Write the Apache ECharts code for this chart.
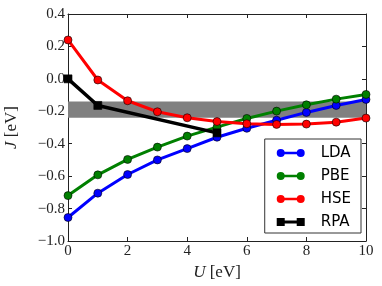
<!DOCTYPE html>
<html>
<head>
<meta charset="utf-8">
<script src="https://cdn.jsdelivr.net/npm/echarts@6/dist/echarts.min.js"></script>
<style>html,body{margin:0;padding:0;background:#fff}#c{width:382px;height:286px}</style>
</head>
<body>
<div id="c"></div>
<script>
const U = [0, 1, 2, 3, 4, 5, 6, 7, 8, 9, 10];
const LDA = [-0.855, -0.705, -0.59, -0.5, -0.43, -0.36, -0.305, -0.255, -0.207, -0.164, -0.127];
const PBE = [-0.72, -0.592, -0.497, -0.421, -0.353, -0.298, -0.244, -0.199, -0.16, -0.125, -0.096];
const HSE = [0.24, -0.007, -0.135, -0.203, -0.24, -0.263, -0.277, -0.281, -0.279, -0.267, -0.242];
const RPA_U = [0, 1, 5];
const RPA = [0.0, -0.164, -0.333];
const BAND = [-0.14, -0.24];
const X_TICKS = [0, 10, 2];
const Y_TICKS = [-1.0, 0.4, 0.2];

const pair = (xs, ys) => xs.map((x, i) => [x, ys[i]]);
const serif = 'Liberation Serif';
const fmtY = v => (v < 0 ? '\u2212' : '') + Math.abs(v).toFixed(1);
const circIcon = 'path://M0,4 A4,4 0 1,1 8,4 A4,4 0 1,1 0,4 Z M6,2.7 L22,2.7 L22,5.3 L6,5.3 Z M20,4 A4,4 0 1,1 28,4 A4,4 0 1,1 20,4 Z';
const sqIcon = 'path://M0,0 L8,0 L8,8 L0,8 Z M6,2.5 L22,2.5 L22,5.5 L6,5.5 Z M20,0 L28,0 L28,8 L20,8 Z';

const chart = echarts.init(document.getElementById('c'), null, {renderer: 'canvas'});
const axCommon = {
  type: 'value', splitLine: {show: false},
  axisLine: {show: true, onZero: false, lineStyle: {color: '#222', width: 1}},
  axisTick: {show: true, inside: true, length: 4, lineStyle: {color: '#222'}}
};
function lineSeries(name, data, color, symbol, size, width) {
  return {
    name, type: 'line', data, z: 3,
    symbol, symbolSize: size, showSymbol: true,
    lineStyle: {color, width},
    itemStyle: {color, borderColor: '#000', borderWidth: 0.6},
    emphasis: {disabled: true}, animation: false
  };
}
chart.setOption({
  animation: false,
  grid: {left: 68, right: 16, top: 14, bottom: 45, show: false, containLabel: false, outerBoundsMode: 'none'},
  xAxis: [
    Object.assign({}, axCommon, {
      min: X_TICKS[0], max: X_TICKS[1], interval: X_TICKS[2], position: 'bottom',
      axisLabel: {fontFamily: serif, fontSize: 15, color: '#222', margin: 3},
      name: '{i|U} [eV]', nameLocation: 'middle', nameGap: 15,
      nameTextStyle: {fontFamily: serif, fontSize: 17, color: '#222',
        rich: {i: {fontFamily: serif, fontStyle: 'italic', fontSize: 17, color: '#222'}}}
    }),
    Object.assign({}, axCommon, {
      min: X_TICKS[0], max: X_TICKS[1], interval: X_TICKS[2], position: 'top',
      axisLabel: {show: false}
    })
  ],
  yAxis: [
    Object.assign({}, axCommon, {
      min: Y_TICKS[0], max: Y_TICKS[1], interval: Y_TICKS[2], position: 'left',
      axisLabel: {fontFamily: serif, fontSize: 15, color: '#222', margin: 3, formatter: fmtY},
      name: '{i|J} [eV]', nameLocation: 'middle', nameGap: 48, nameRotate: 90,
      nameTextStyle: {fontFamily: serif, fontSize: 17, color: '#222',
        rich: {i: {fontFamily: serif, fontStyle: 'italic', fontSize: 17, color: '#222'}}}
    }),
    Object.assign({}, axCommon, {
      min: Y_TICKS[0], max: Y_TICKS[1], interval: Y_TICKS[2], position: 'right',
      axisLabel: {show: false}
    })
  ],
  legend: {
    right: 21, top: 139, orient: 'vertical',
    padding: [5, 10, 2, 12],
    backgroundColor: '#fff', borderColor: '#333', borderWidth: 1, borderRadius: 0,
    itemWidth: 28, itemHeight: 8, itemGap: 5,
    textStyle: {fontFamily: 'DejaVu Sans', fontSize: 15, color: '#000', padding: [0, 0, 0, 11], lineHeight: 18},
    itemStyle: {borderWidth: 0},
    selectedMode: false,
    data: [
      {name: 'LDA', icon: circIcon},
      {name: 'PBE', icon: circIcon},
      {name: 'HSE', icon: circIcon},
      {name: 'RPA', icon: sqIcon}
    ]
  },
  series: [
    {
      name: 'band', type: 'line', data: [], z: 1, silent: true,
      markArea: {silent: true, itemStyle: {color: '#808080', opacity: 1},
        data: [[{yAxis: BAND[0]}, {yAxis: BAND[1]}]]}
    },
    lineSeries('LDA', pair(U, LDA), '#0000ff', 'circle', 8, 3),
    lineSeries('PBE', pair(U, PBE), '#008000', 'circle', 8, 3),
    lineSeries('HSE', pair(U, HSE), '#ff0000', 'circle', 8, 3),
    lineSeries('RPA', pair(RPA_U, RPA), '#000000', 'rect', 8, 3.5)
  ]
});
</script>
</body>
</html>
